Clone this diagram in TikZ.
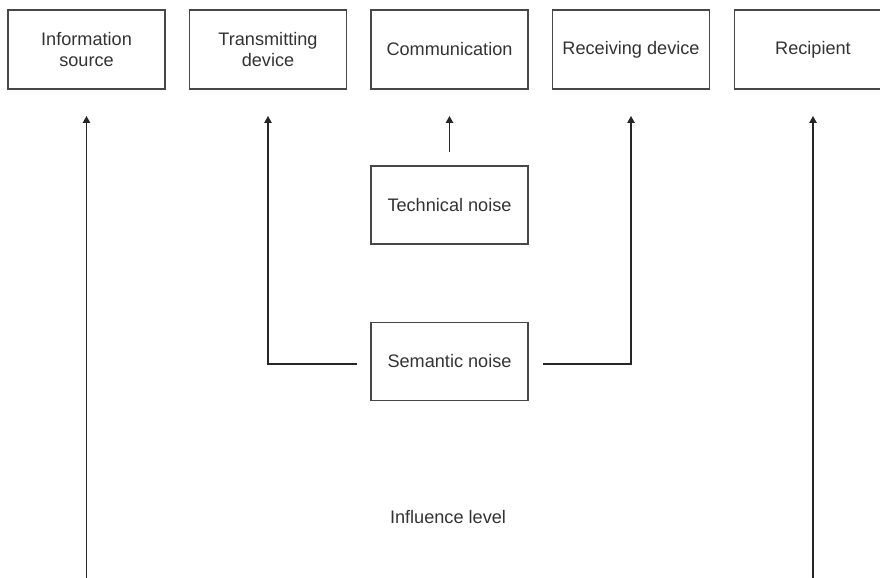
\documentclass[tikz,border=0pt]{standalone}
\usepackage{fontspec}
\setmainfont{Liberation Sans}
\usetikzlibrary{arrows.meta,calc}
\begin{document}
\begin{tikzpicture}[x=1bp,y=-1bp,
  box/.style={draw=black!72, line width=1.3bp, minimum width=157bp, minimum height=79bp,
    inner sep=0pt, align=center, text=black!80, font=\fontsize{18.2}{21}\selectfont},
  lbl/.style={text=black!80, font=\fontsize{18.2}{21}\selectfont},
  conn/.style={draw=black!85, line width=1.2bp},
  arr/.style={conn, -{Triangle[length=7bp,width=7.5bp]}}]
\useasboundingbox (0,0) rectangle (880,578);
% top row
\node[box] (src) at (86.5,49.5) {Information\\source};
\node[box] (tx)  at (268,49.5)  {Transmitting\\device};
\node[box] (com) at (449.5,49.5) {Communication};
\node[box] (rx)  at (631,49.5)  {Receiving device};
\node[box] (rcp) at (813,49.5)  {Recipient};
% noise boxes
\node[box, minimum height=78bp] (tech) at (449.5,205) {Technical noise};
\node[box, minimum height=78bp] (sem)  at (449.5,361.5) {Semantic noise};
\node[lbl] (infl) at (448,517) {Influence level};
% arrow end points
\coordinate (t1) at (86.5,116);
\coordinate (t2) at (268,116);
\coordinate (t3) at (449.5,116);
\coordinate (t4) at (631,116);
\coordinate (t5) at (813,116);
\coordinate (b1) at (86.5,580);
\coordinate (b5) at (813,580);
\coordinate (tc) at (449.5,152);
\coordinate (sl) at (357,364);
\coordinate (sr) at (543,364);
% connectors
\draw[arr] (b1) -- (t1);
\draw[arr] (b5) -- (t5);
\draw[arr] (tc) -- (t3);
\draw[arr] (sl) -| (t2);
\draw[arr] (sr) -| (t4);
\end{tikzpicture}
\end{document}
